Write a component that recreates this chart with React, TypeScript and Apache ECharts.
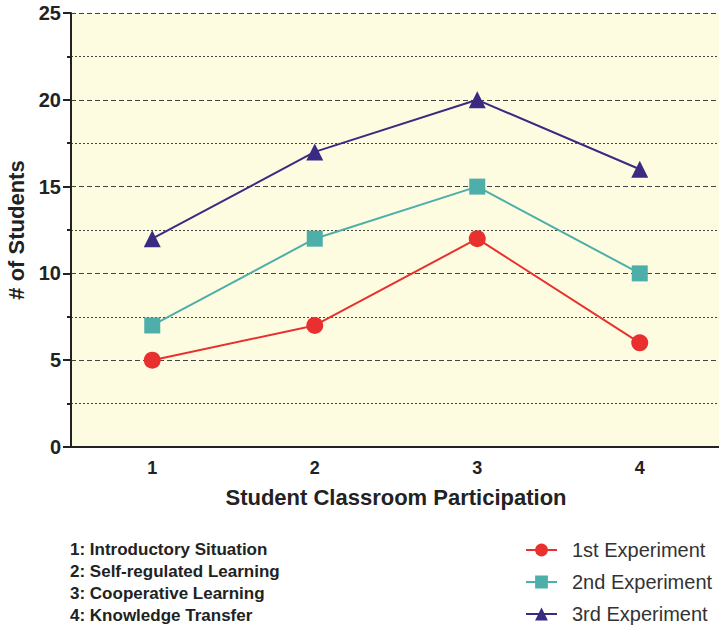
import React, { useEffect, useRef } from "react";
import * as echarts from "echarts";

const categories = ["1", "2", "3", "4"];
const first = [5, 7, 12, 6];
const second = [7, 12, 15, 10];
const third = [12, 17, 20, 16];
const notes = [
  "1: Introductory Situation",
  "2: Self-regulated Learning",
  "3: Cooperative Learning",
  "4: Knowledge Transfer",
];

export default function App() {
  const ref = useRef<HTMLDivElement>(null);
  useEffect(() => {
    const chart = echarts.init(ref.current!, null, { renderer: "svg" });
    const font = "Arial, 'Liberation Sans', sans-serif";
    chart.setOption({
      animation: false,
      backgroundColor: "#ffffff",
      textStyle: { fontFamily: font },
      grid: {
        left: 71,
        right: -2,
        top: 13,
        bottom: 183,
        show: true,
        backgroundColor: "#fefce0",
        borderWidth: 0,
        outerBoundsMode: "none",
        containLabel: false,
      },
      xAxis: {
        type: "category",
        data: categories,
        boundaryGap: true,
        name: "Student Classroom Participation",
        nameLocation: "middle",
        nameGap: 39,
        nameTextStyle: { fontSize: 22, fontWeight: "bold", color: "#222", fontFamily: font },
        axisLine: { lineStyle: { color: "#222", width: 2 } },
        axisTick: { alignWithLabel: true, length: 6, lineStyle: { color: "#222", width: 2 } },
        axisLabel: { fontSize: 18, fontWeight: "bold", color: "#222", margin: 12, fontFamily: font },
        splitLine: { show: false },
      },
      yAxis: {
        type: "value",
        min: 0,
        max: 25,
        interval: 5,
        name: "# of Students",
        nameLocation: "middle",
        nameGap: 41,
        nameRotate: 90,
        nameTextStyle: { fontSize: 22, fontWeight: "bold", color: "#222", fontFamily: font },
        axisLine: { show: true, lineStyle: { color: "#222", width: 2 } },
        axisTick: { show: true, length: 8, lineStyle: { color: "#222", width: 2 } },
        minorTick: { show: true, splitNumber: 2, length: 4, lineStyle: { color: "#222", width: 2 } },
        axisLabel: { fontSize: 20, fontWeight: "bold", color: "#222", margin: 10, fontFamily: font },
        splitLine: { show: true, lineStyle: { color: "#444", width: 1.2, type: [5, 3] } },
        minorSplitLine: { show: true, lineStyle: { color: "#444", width: 1.2, type: [2, 2] } },
      },
      legend: {
        orient: "vertical",
        left: 525,
        top: 540,
        padding: 0,
        itemWidth: 31,
        itemHeight: 16,
        itemGap: 12,
        textStyle: { fontSize: 20, lineHeight: 20, color: "#333", fontFamily: font, padding: [0, 0, 0, 10] },
        data: ["1st Experiment", "2nd Experiment", "3rd Experiment"],
      },
      graphic: notes.map((t, i) => ({
        type: "text",
        left: 70,
        top: 541 + i * 22,
        style: { text: t, fill: "#222", font: `bold 17px ${font}` },
      })),
      series: [
        {
          name: "1st Experiment",
          type: "line",
          data: first,
          symbol: "circle",
          symbolSize: 17,
          lineStyle: { color: "#e8312f", width: 2 },
          itemStyle: { color: "#e8312f" },
        },
        {
          name: "2nd Experiment",
          type: "line",
          data: second,
          symbol: "rect",
          symbolSize: 16,
          lineStyle: { color: "#4eaeaa", width: 2 },
          itemStyle: { color: "#4eaeaa" },
        },
        {
          name: "3rd Experiment",
          type: "line",
          data: third,
          symbol: "triangle",
          symbolSize: 17,
          lineStyle: { color: "#3b2a82", width: 2 },
          itemStyle: { color: "#3b2a82" },
        },
      ],
    });
    return () => chart.dispose();
  }, []);
  return <div ref={ref} style={{ width: 719, height: 630, position: "absolute", left: 0, top: 0 }} />;
}
